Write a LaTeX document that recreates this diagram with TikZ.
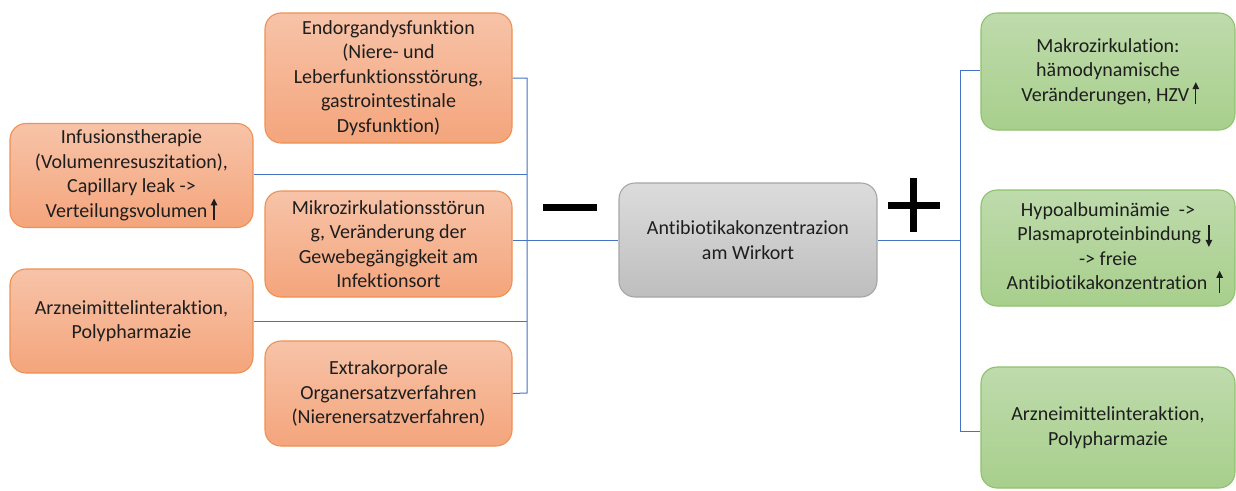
\documentclass[tikz,border=0pt]{standalone}
\usepackage{fontspec}
\usetikzlibrary{arrows.meta}
\setmainfont{Carlito}[Ligatures={NoCommon}]
\definecolor{orTop}{HTML}{F7C3A8}
\definecolor{orBot}{HTML}{F4A57C}
\definecolor{orLine}{HTML}{EE9152}
\definecolor{grTop}{HTML}{BEDBAC}
\definecolor{grBot}{HTML}{A8CF8C}
\definecolor{grLine}{HTML}{8EC26B}
\definecolor{gyTop}{HTML}{DCDCDC}
\definecolor{gyBot}{HTML}{BEBEBE}
\definecolor{gyLine}{HTML}{A6A6A6}
\definecolor{conn}{HTML}{4472C4}
\definecolor{txt}{HTML}{1E1E1E}
\newcommand{\up}{\tikz[x=1pt,y=1pt,baseline=0pt]\draw[line width=1.3pt,-{Triangle[length=7pt,width=6.5pt]}] (0,-3) -- (0,19);}
\newcommand{\down}{\tikz[x=1pt,y=1pt,baseline=0pt]\draw[line width=1.3pt,-{Triangle[length=7pt,width=6.5pt]}] (0,16) -- (0,-6);}
\tikzset{
  box/.style={rectangle, rounded corners=16pt, line width=1.1pt, align=center,
    inner sep=2pt, text=txt, font=\fontsize{20}{24.5}\selectfont},
  orbox/.style={box, draw=orLine, top color=orTop, bottom color=orBot},
  grbox/.style={box, draw=grLine, top color=grTop, bottom color=grBot},
  gybox/.style={box, draw=gyLine, top color=gyTop, bottom color=gyBot},
  link/.style={draw=conn, line width=1pt},
}
\begin{document}
\begin{tikzpicture}[x=1pt,y=-1pt]
\useasboundingbox (0,0) rectangle (1236,490);
% left column
\node[orbox, minimum width=243pt, minimum height=104pt] (inf) at (131.5,175.5)
  {Infusionstherapie\\(Volumenresuszitation),\\Capillary leak ->\\Verteilungsvolumen\,\up};
\node[orbox, minimum width=243pt, minimum height=104pt] (arzL) at (131.5,321)
  {Arzneimittelinteraktion,\\Polypharmazie};
% middle column
\node[orbox, minimum width=247pt, minimum height=130pt] (endo) at (388.5,78)
  {Endorgandysfunktion\\(Niere- und\\Leberfunktionsstörung,\\gastrointestinale\\Dysfunktion)};
\node[orbox, minimum width=247pt, minimum height=106pt] (mikro) at (388.5,244)
  {Mikrozirkulationsstörun\\g, Veränderung der\\Gewebegängigkeit am\\Infektionsort};
\node[orbox, minimum width=247pt, minimum height=105pt] (extra) at (388.5,393.5)
  {Extrakorporale\\Organersatzverfahren\\(Nierenersatzverfahren)};
% centre
\node[gybox, minimum width=258pt, minimum height=114pt] (ctr) at (748,240)
  {Antibiotikakonzentrazion\\am Wirkort};
% right column
\node[grbox, minimum width=254pt, minimum height=117pt] (makro) at (1108,71.5)
  {Makrozirkulation:\\hämodynamische\\\ Veränderungen, HZV\,\up};
\node[grbox, minimum width=254pt, minimum height=116pt] (hypo) at (1108,248)
  {Hypoalbuminämie \ ->\\\ \ \ Plasmaproteinbindung \down\\-> freie\\\ \ \ Antibiotikakonzentration \ \up};
\node[grbox, minimum width=254pt, minimum height=121pt] (arzR) at (1108,427.5)
  {Arzneimittelinteraktion,\\Polypharmazie};
% left connectors
\coordinate (bT) at (527,78);
\coordinate (bB) at (527,393);
\draw[link] (endo.east) -- (bT) -- (bB) -- (extra.east);
\draw[link] (inf.east |- 0,174) -- (527,174);
\draw[link] (arzL.east |- 0,321) -- (527,321);
\draw[link] (mikro.east |- ctr.west) -- (ctr.west);
% right connectors
\coordinate (rT) at (960,70);
\coordinate (rB) at (960,431);
\draw[link] (makro.west |- rT) -- (rT) -- (rB) -- (arzR.west |- rB);
\draw[link] (ctr.east) -- (ctr.east -| rT);
% signs
\fill[black] (543,204) rectangle (597,211);
\fill[black] (888,201.5) rectangle (940,208.5);
\fill[black] (909.5,178) rectangle (916.5,232);
\end{tikzpicture}
\end{document}
